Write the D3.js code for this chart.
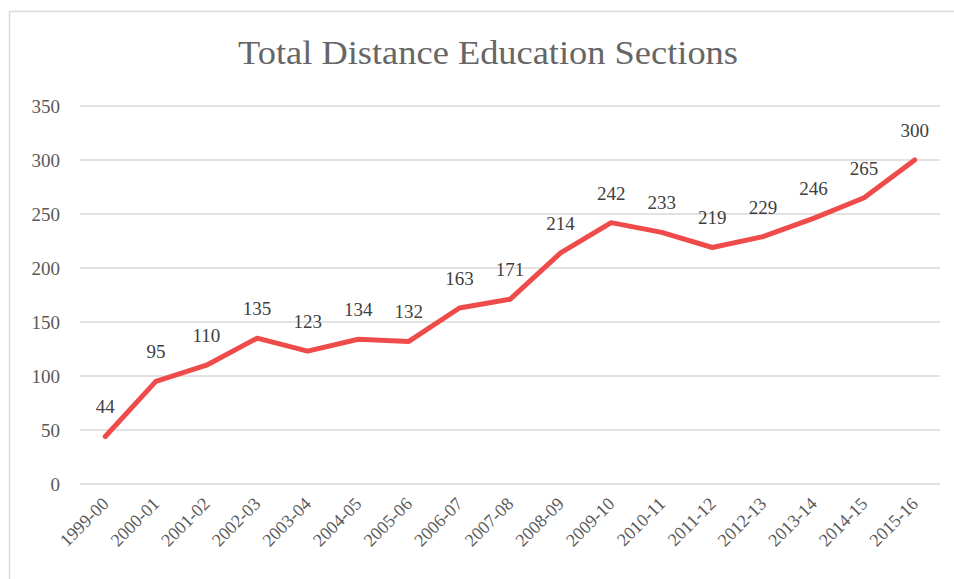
<!DOCTYPE html>
<html><head><meta charset="utf-8">
<script src="https://cdn.jsdelivr.net/npm/d3@7"></script>
<style>body{margin:0;background:#fff}svg{display:block}</style>
</head><body>
<script>
const categories = ["1999-00","2000-01","2001-02","2002-03","2003-04","2004-05","2005-06","2006-07","2007-08","2008-09","2009-10","2010-11","2011-12","2012-13","2013-14","2014-15","2015-16"];
const values = [44,95,110,135,123,134,132,163,171,214,242,233,219,229,246,265,300];
const yTicks = [0,50,100,150,200,250,300,350];
const title = "Total Distance Education Sections";

const W = 954, H = 579;
const svg = d3.select("body").append("svg").attr("width", W).attr("height", H);
const font = "'Liberation Serif', 'DejaVu Serif', serif";
const grey = "#595959";

svg.append("rect").attr("x", 9.5).attr("y", 11.5).attr("width", 960).attr("height", 600)
  .attr("fill", "none").attr("stroke", "#d9d9d9").attr("stroke-width", 1.5);

svg.append("text").attr("x", 488).attr("y", 64).attr("text-anchor", "middle")
  .attr("font-family", font).attr("font-size", 34).attr("fill", "#666")
  .attr("textLength", 500).attr("lengthAdjust", "spacingAndGlyphs").text(title);

const x = d3.scalePoint().domain(categories).range([80, 940]).padding(0.5);
const y = d3.scaleLinear().domain([0, 350]).range([484, 106]);

const grid = svg.append("g");
grid.selectAll("line").data(yTicks).join("line")
  .attr("x1", 80).attr("x2", 940).attr("y1", d => y(d)).attr("y2", d => y(d))
  .attr("stroke", "#d9d9d9").attr("stroke-width", 1.5);

const yAxis = d3.axisLeft(y).tickValues(yTicks).tickSize(0).tickPadding(0);
const ya = svg.append("g").attr("transform", "translate(60,0)").call(yAxis);
ya.select(".domain").remove();
ya.selectAll("text").attr("font-family", font).attr("font-size", 19).attr("fill", grey).attr("dy", "0.32em");

const xAxis = d3.axisBottom(x).tickSize(0).tickPadding(0);
const xa = svg.append("g").attr("transform", "translate(0,484)").call(xAxis);
xa.select(".domain").remove();
xa.selectAll("text").attr("font-family", font).attr("font-size", 18).attr("fill", grey)
  .attr("text-anchor", "end").attr("dy", null).attr("y", 0)
  .attr("transform", "translate(4,21) rotate(-45)");

const line = d3.line().x((d, i) => x(categories[i])).y(d => y(d));
svg.append("path").datum(values).attr("d", line).attr("fill", "none")
  .attr("stroke", "#ef4b4b").attr("stroke-width", 5).attr("stroke-linejoin", "round").attr("stroke-linecap", "round");

svg.append("g").selectAll("text").data(values).join("text")
  .attr("x", (d, i) => x(categories[i])).attr("y", d => y(d) - 23)
  .attr("text-anchor", "middle").attr("font-family", font).attr("font-size", 19).attr("fill", "#404040")
  .text(d => d);
</script>
</body></html>
